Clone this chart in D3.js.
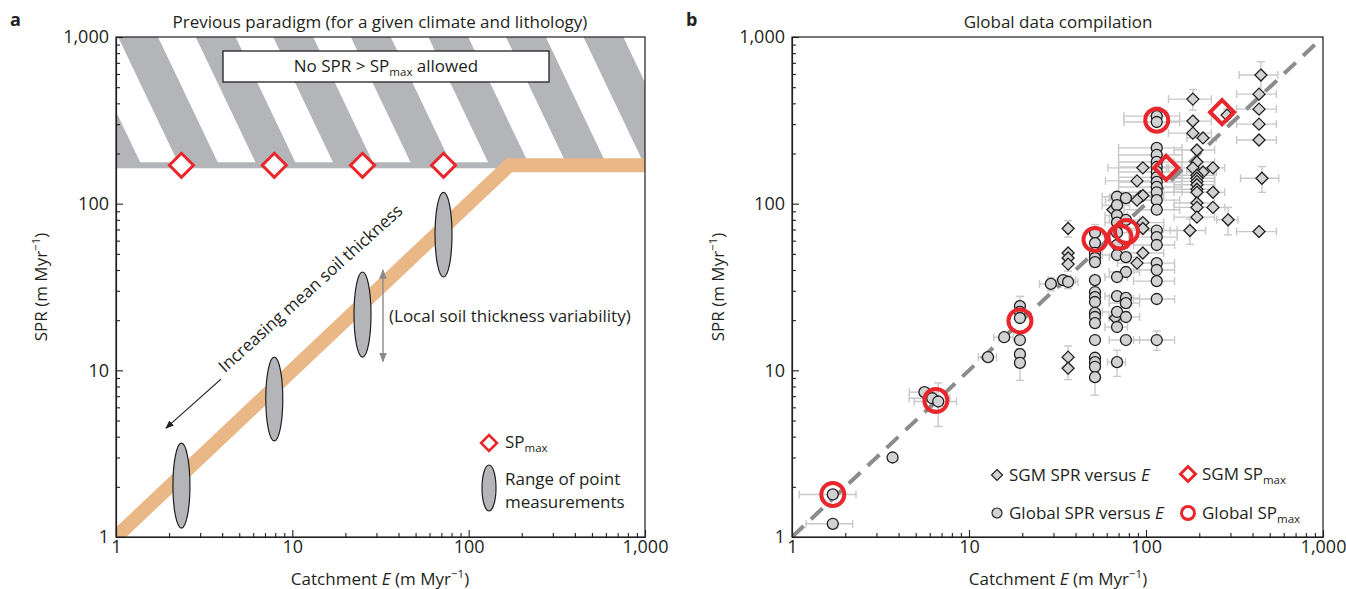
<!DOCTYPE html>
<html lang="en">
<head>
<meta charset="utf-8">
<title>Soil production rate versus catchment erosion</title>
<script src="https://d3js.org/d3.v7.min.js"></script>
<style>
  body { margin: 0; background: #fff; }
  svg text { font-family: "Open Sans", sans-serif; fill: #231f20; }
  .tick text { font-size: 18px; font-family: "Open Sans", sans-serif; fill: #231f20; }
  .tick line, .domain { stroke: #231f20; stroke-width: 1.1; }
  .errbar { stroke: #c9c9c9; stroke-width: 1.4; fill: none; }
</style>
</head>
<body>
<div id="chart"></div>
<script>
// ---- panel a : previous paradigm ----
var spMax = 170;
var paradigmLine = [[1, 1], [170, 170], [1000, 170]];
var spMaxE = [2.35, 7.9, 25, 72];
var ellipseE = [2.35, 7.9, 25, 72];
var ellipseLo = [1.13, 3.77, 12, 36.3];
var ellipseHi = [3.66, 12, 38.9, 117];

// ---- panel b : global data compilation, [E, SPR, errE, errSPR] ----
var globalPts = [
  [1.7, 1.8, 0.6, 0], [1.7, 1.2, 0.5, 0], [3.7, 3.0, 0, 0], [5.6, 7.4, 1.0, 0],
  [6.2, 6.8, 1.6, 1.0], [6.7, 6.5, 1.8, 1.9], [12.8, 12.0, 1.5, 0], [15.8, 15.8, 2.0, 0],
  [19.4, 24.3, 0, 3.5], [19.4, 22.4, 0, 0], [19.4, 20.6, 0, 0], [19.4, 15.2, 0, 0],
  [19.4, 12.5, 0, 0], [19.4, 11.1, 0, 2.4], [29, 33, 4, 3], [34, 34.8, 6, 0], [36.3, 33.9, 5, 3],
  [51.5, 67, 0, 8], [51.5, 58, 0, 0], [51.5, 50.6, 0, 0], [51.5, 47.2, 0, 0], [51.5, 44.6, 0, 0],
  [51.5, 34.8, 0, 0], [51.5, 29.5, 0, 0], [51.5, 27.5, 0, 0], [51.5, 25.7, 0, 0], [51.5, 22.1, 0, 0],
  [51.5, 20.9, 0, 0], [51.5, 19.2, 0, 0], [51.5, 15.2, 0, 0], [51.5, 11.9, 0, 0], [51.5, 11.2, 0, 0],
  [51.5, 10.5, 0, 0], [51.5, 9.1, 0, 2],
  [68.6, 110, 12, 0], [77, 108, 15, 0], [68.6, 98, 12, 0], [68.6, 85, 10, 0], [77, 80, 15, 0],
  [68.6, 77, 10, 0], [68.6, 67, 12, 0], [68.6, 56.5, 10, 0], [68.6, 49.2, 12, 0], [77, 47.8, 15, 0],
  [77, 38.9, 15, 0], [68.6, 36.3, 10, 0], [68.6, 27.9, 10, 0], [77, 27.2, 15, 0], [77, 25.3, 15, 0],
  [68.6, 22.4, 12, 0], [77, 20.9, 15, 0], [68.6, 18.2, 10, 0], [77, 15.2, 15, 0], [68.6, 11.2, 8, 2],
  [115, 335, 40, 45], [115, 309, 40, 0], [115, 216, 45, 0], [115, 196, 45, 0], [115, 178, 45, 0],
  [115, 166, 45, 0], [115, 155, 45, 0], [115, 144, 45, 0], [115, 135, 45, 0], [115, 126, 45, 0],
  [115, 117, 45, 0], [115, 105, 40, 0], [115, 92, 40, 0], [115, 69, 35, 0], [115, 63, 35, 0],
  [115, 56.5, 30, 0], [115, 44, 30, 0], [115, 40, 30, 0], [115, 34.3, 30, 0], [115, 26.8, 30, 0],
  [115, 15.2, 30, 2]
];
var sgmPts = [
  [36.3, 71, 0, 8], [36.3, 50.6, 0, 0], [36.3, 47.2, 0, 0], [36.3, 43.4, 0, 4], [36.3, 12.0, 0, 2],
  [36.3, 10.3, 0, 1.5], [65, 92, 0, 0], [67, 20.6, 5, 0],
  [96, 164, 35, 0], [89, 137, 30, 0], [93, 110, 30, 0], [96, 112, 30, 0], [89, 105, 30, 0],
  [96, 77, 30, 0], [96, 71, 30, 0], [96, 50.6, 30, 0], [89, 44, 20, 0],
  [184, 424, 50, 60], [184, 313, 50, 0], [184, 265, 50, 0], [210, 248, 40, 0], [194, 210, 50, 0],
  [194, 178, 50, 0], [184, 164, 50, 0], [210, 155, 40, 0], [239, 164, 40, 0], [194, 148, 50, 0],
  [194, 142, 50, 0], [194, 136, 50, 0], [194, 130, 50, 0], [194, 122, 50, 0], [194, 117, 50, 0],
  [239, 117, 40, 0], [194, 101, 50, 0], [194, 95, 50, 0], [194, 83, 50, 0], [239, 95, 40, 0],
  [291, 80, 40, 15], [177, 69, 40, 12],
  [446, 591, 110, 120], [435, 454, 110, 0], [435, 369, 110, 0], [435, 300, 110, 0],
  [435, 241, 110, 0], [452, 142, 110, 25], [435, 68, 110, 0], [287, 340, 0, 30]
];
var globalMax = [[1.7, 1.8], [6.5, 6.6], [19.4, 19.8], [51.5, 61], [71.3, 63], [77.6, 68], [115, 317]];
var sgmMax = [[130, 164], [269, 354]];

var majorTicks = [1, 10, 100, 1000];
var tickLabels = ["1", "10", "100", "1,000"];

var W = 1346, H = 589;
var top_ = 37, bottom = 537;
var ink = "#231f20", red = "#e8262b", hatchGrey = "#b4b5b8", markGrey = "#d1d2d4";
var fs = "17px", subFs = "11.5px";

var svg = d3.select("#chart").append("svg").attr("width", W).attr("height", H);
var defs = svg.append("defs");

// diagonal white stripes over the grey "forbidden" zone
defs.append("pattern").attr("id", "stripes")
  .attr("patternUnits", "userSpaceOnUse").attr("width", 70).attr("height", 10)
  .attr("patternTransform", "translate(158,37) rotate(-25.5)")
  .append("rect").attr("x", 0).attr("y", 0).attr("width", 34).attr("height", 10).attr("fill", "#fff");

function arrowMarker(id, col) {
  defs.append("marker").attr("id", id).attr("viewBox", "0 0 10 10")
    .attr("refX", 9).attr("refY", 5).attr("markerWidth", 7).attr("markerHeight", 7)
    .attr("orient", "auto-start-reverse")
    .append("path").attr("d", "M0,1 L10,5 L0,9 Z").attr("fill", col);
}
arrowMarker("arrBlack", ink);
arrowMarker("arrGrey", "#8a8a8a");

function subLabel(sel, pre, sub, post) {
  sel.text(pre);
  sel.append("tspan").attr("font-size", subFs).attr("dy", 4).text(sub);
  if (post) sel.append("tspan").attr("dy", -4).text(post);
}

function drawAxes(g, x, y, cx, ylabX) {
  var minor = [];
  [1, 10, 100].forEach(function(d) { for (var k = 2; k < 10; k++) minor.push(d * k); });
  var fmt = function(d) { return tickLabels[majorTicks.indexOf(d)]; };
  g.append("g").attr("transform", "translate(0," + bottom + ")")
    .call(d3.axisBottom(x).tickValues(majorTicks).tickFormat(fmt).tickSizeInner(-7).tickSizeOuter(0).tickPadding(3));
  g.append("g").attr("transform", "translate(0," + bottom + ")")
    .call(d3.axisBottom(x).tickValues(minor).tickFormat("").tickSizeInner(-4).tickSizeOuter(0));
  g.append("g").attr("transform", "translate(" + x.range()[0] + ",0)")
    .call(d3.axisLeft(y).tickValues(majorTicks).tickFormat(fmt).tickSizeInner(-7).tickSizeOuter(0).tickPadding(7));
  g.append("g").attr("transform", "translate(" + x.range()[0] + ",0)")
    .call(d3.axisLeft(y).tickValues(minor).tickFormat("").tickSizeInner(-4).tickSizeOuter(0));
  g.append("rect").attr("x", x.range()[0]).attr("y", top_)
    .attr("width", x.range()[1] - x.range()[0]).attr("height", bottom - top_)
    .attr("fill", "none").attr("stroke", ink).attr("stroke-width", 1.2);

  var xl = g.append("text").attr("x", cx).attr("y", 585).attr("text-anchor", "middle").attr("font-size", fs);
  xl.text("Catchment ");
  xl.append("tspan").attr("font-style", "italic").text("E");
  xl.append("tspan").text(" (m Myr");
  xl.append("tspan").attr("font-size", subFs).attr("dy", -7).text("\u22121");
  xl.append("tspan").attr("dy", 7).text(")");

  var yl = g.append("text").attr("transform", "translate(" + ylabX + "," + ((top_ + bottom) / 2) + ") rotate(-90)")
    .attr("text-anchor", "middle").attr("font-size", fs);
  yl.text("SPR (m Myr");
  yl.append("tspan").attr("font-size", subFs).attr("dy", -7).text("\u22121");
  yl.append("tspan").attr("dy", 7).text(")");
}

// ================= panel a =================
var xa = d3.scaleLog().domain([1, 1000]).range([116, 645]);
var ya = d3.scaleLog().domain([1, 1000]).range([bottom, top_]);
var ga = svg.append("g");

defs.append("clipPath").attr("id", "clipA").append("rect")
  .attr("x", 116).attr("y", top_).attr("width", 645 - 116).attr("height", bottom - top_);

var plotA = ga.append("g").attr("clip-path", "url(#clipA)");
plotA.append("rect").attr("x", xa(1)).attr("y", ya(1000))
  .attr("width", xa(1000) - xa(1)).attr("height", ya(spMax) + 3 - ya(1000)).attr("fill", hatchGrey);
plotA.append("rect").attr("x", xa(1)).attr("y", ya(1000))
  .attr("width", xa(1000) - xa(1)).attr("height", ya(spMax) - 3 - ya(1000)).attr("fill", "url(#stripes)");

plotA.append("path").datum(paradigmLine)
  .attr("d", d3.line().x(function(d) { return xa(d[0]); }).y(function(d) { return ya(d[1]); }))
  .attr("fill", "none").attr("stroke", "#eab886").attr("stroke-width", 14).attr("stroke-linejoin", "miter");

plotA.selectAll(".range").data(ellipseE).enter().append("ellipse")
  .attr("cx", function(d) { return xa(d); })
  .attr("cy", function(d, i) { return (ya(ellipseLo[i]) + ya(ellipseHi[i])) / 2; })
  .attr("rx", 8.5)
  .attr("ry", function(d, i) { return (ya(ellipseLo[i]) - ya(ellipseHi[i])) / 2; })
  .attr("fill", "#b3b5b8").attr("stroke", ink).attr("stroke-width", 1.2);

plotA.selectAll(".spmax").data(spMaxE).enter().append("path")
  .attr("transform", function(d) { return "translate(" + xa(d) + "," + ya(spMax) + ")"; })
  .attr("d", "M0,-12 L12,0 L0,12 L-12,0 Z")
  .attr("fill", "#fff").attr("stroke", red).attr("stroke-width", 3);

// box
ga.append("rect").attr("x", 223).attr("y", 51).attr("width", 326).attr("height", 31)
  .attr("fill", "#fff").attr("stroke", ink).attr("stroke-width", 1.3);
subLabel(ga.append("text").attr("x", 386).attr("y", 72).attr("text-anchor", "middle").attr("font-size", fs),
  "No SPR > SP", "max", " allowed");

// annotations
ga.append("text").attr("transform", "translate(" + xa(4.15) + "," + ya(9.6) + ") rotate(-42)")
  .attr("font-size", fs).text("Increasing mean soil thickness");
ga.append("line").attr("x1", xa(3.94)).attr("y1", ya(8.85)).attr("x2", xa(1.92)).attr("y2", ya(4.5))
  .attr("stroke", ink).attr("stroke-width", 1.2).attr("marker-end", "url(#arrBlack)");
ga.append("line").attr("x1", 383).attr("y1", ya(40)).attr("x2", 383).attr("y2", ya(11.3))
  .attr("stroke", "#8a8a8a").attr("stroke-width", 1.4)
  .attr("marker-start", "url(#arrGrey)").attr("marker-end", "url(#arrGrey)");
ga.append("text").attr("x", 389).attr("y", 322).attr("font-size", fs).text("(Local soil thickness variability)");

// legend a
ga.append("path").attr("transform", "translate(489,443)").attr("d", "M0,-8 L8,0 L0,8 L-8,0 Z")
  .attr("fill", "#fff").attr("stroke", red).attr("stroke-width", 2.5);
subLabel(ga.append("text").attr("x", 505).attr("y", 448).attr("font-size", fs), "SP", "max");
ga.append("ellipse").attr("cx", 489).attr("cy", 488).attr("rx", 7).attr("ry", 23)
  .attr("fill", "#b3b5b8").attr("stroke", ink).attr("stroke-width", 1.2);
ga.append("text").attr("x", 505).attr("y", 485).attr("font-size", fs).text("Range of point");
ga.append("text").attr("x", 505).attr("y", 508).attr("font-size", fs).text("measurements");

drawAxes(ga, xa, ya, 380, 47);
ga.append("text").attr("x", 380).attr("y", 28).attr("text-anchor", "middle").attr("font-size", fs)
  .text("Previous paradigm (for a given climate and lithology)");
ga.append("text").attr("x", 10).attr("y", 26).attr("font-size", "18px").attr("font-weight", "bold").text("a");

// ================= panel b =================
var xb = d3.scaleLog().domain([1, 1000]).range([792, 1323]);
var yb = d3.scaleLog().domain([1, 1000]).range([bottom, top_]);
var gb = svg.append("g");
defs.append("clipPath").attr("id", "clipB").append("rect")
  .attr("x", 792).attr("y", top_).attr("width", 1323 - 792).attr("height", bottom - top_);
var plotB = gb.append("g").attr("clip-path", "url(#clipB)");

var allPts = globalPts.concat(sgmPts);
var eb = plotB.append("g");
allPts.forEach(function(p) {
  var cx = xb(p[0]), cy = yb(p[1]);
  if (p[2] > 0) {
    var x0 = xb(p[0] - p[2]), x1 = xb(p[0] + p[2]);
    eb.append("line").attr("class", "errbar").attr("x1", x0).attr("x2", x1).attr("y1", cy).attr("y2", cy);
    eb.append("line").attr("class", "errbar").attr("x1", x0).attr("x2", x0).attr("y1", cy - 4).attr("y2", cy + 4);
    eb.append("line").attr("class", "errbar").attr("x1", x1).attr("x2", x1).attr("y1", cy - 4).attr("y2", cy + 4);
  }
  if (p[3] > 0) {
    var y0 = yb(p[1] - p[3]), y1 = yb(p[1] + p[3]);
    eb.append("line").attr("class", "errbar").attr("x1", cx).attr("x2", cx).attr("y1", y0).attr("y2", y1);
    eb.append("line").attr("class", "errbar").attr("x1", cx - 4).attr("x2", cx + 4).attr("y1", y0).attr("y2", y0);
    eb.append("line").attr("class", "errbar").attr("x1", cx - 4).attr("x2", cx + 4).attr("y1", y1).attr("y2", y1);
  }
});

plotB.append("line").attr("x1", xb(1)).attr("y1", yb(1)).attr("x2", xb(1000)).attr("y2", yb(1000))
  .attr("stroke", "#8c8c8c").attr("stroke-width", 4).attr("stroke-dasharray", "16,10");

plotB.selectAll(".sgm").data(sgmPts).enter().append("path")
  .attr("transform", function(d) { return "translate(" + xb(d[0]) + "," + yb(d[1]) + ")"; })
  .attr("d", "M0,-6 L6,0 L0,6 L-6,0 Z")
  .attr("fill", markGrey).attr("stroke", ink).attr("stroke-width", 1.3);
plotB.selectAll(".glob").data(globalPts).enter().append("circle")
  .attr("cx", function(d) { return xb(d[0]); }).attr("cy", function(d) { return yb(d[1]); })
  .attr("r", 5.5).attr("fill", markGrey).attr("stroke", ink).attr("stroke-width", 1.3);

plotB.selectAll(".gmax").data(globalMax).enter().append("circle")
  .attr("cx", function(d) { return xb(d[0]); }).attr("cy", function(d) { return yb(d[1]); })
  .attr("r", 11.5).attr("fill", "none").attr("stroke", red).attr("stroke-width", 4);
plotB.selectAll(".smax").data(sgmMax).enter().append("path")
  .attr("transform", function(d) { return "translate(" + xb(d[0]) + "," + yb(d[1]) + ")"; })
  .attr("d", "M0,-12 L12,0 L0,12 L-12,0 Z")
  .attr("fill", "none").attr("stroke", red).attr("stroke-width", 4);

// legend b
gb.append("path").attr("transform", "translate(997,475)").attr("d", "M0,-5.5 L5.5,0 L0,5.5 L-5.5,0 Z")
  .attr("fill", markGrey).attr("stroke", ink).attr("stroke-width", 1.2);
var l1 = gb.append("text").attr("x", 1009).attr("y", 481).attr("font-size", fs);
l1.text("SGM SPR versus ");
l1.append("tspan").attr("font-style", "italic").text("E");
gb.append("circle").attr("cx", 997).attr("cy", 513).attr("r", 5)
  .attr("fill", markGrey).attr("stroke", ink).attr("stroke-width", 1.2);
var l2 = gb.append("text").attr("x", 1009).attr("y", 519).attr("font-size", fs);
l2.text("Global SPR versus ");
l2.append("tspan").attr("font-style", "italic").text("E");
gb.append("path").attr("transform", "translate(1188,474)").attr("d", "M0,-7.5 L7.5,0 L0,7.5 L-7.5,0 Z")
  .attr("fill", "#fff").attr("stroke", red).attr("stroke-width", 3);
subLabel(gb.append("text").attr("x", 1202).attr("y", 480).attr("font-size", fs), "SGM SP", "max");
gb.append("circle").attr("cx", 1188).attr("cy", 513).attr("r", 6.5)
  .attr("fill", "#fff").attr("stroke", red).attr("stroke-width", 3);
subLabel(gb.append("text").attr("x", 1202).attr("y", 519).attr("font-size", fs), "Global SP", "max");

drawAxes(gb, xb, yb, 1058, 724);
gb.append("text").attr("x", 1058).attr("y", 28).attr("text-anchor", "middle").attr("font-size", fs)
  .text("Global data compilation");
gb.append("text").attr("x", 686).attr("y", 26).attr("font-size", "18px").attr("font-weight", "bold").text("b");
</script>
</body>
</html>
